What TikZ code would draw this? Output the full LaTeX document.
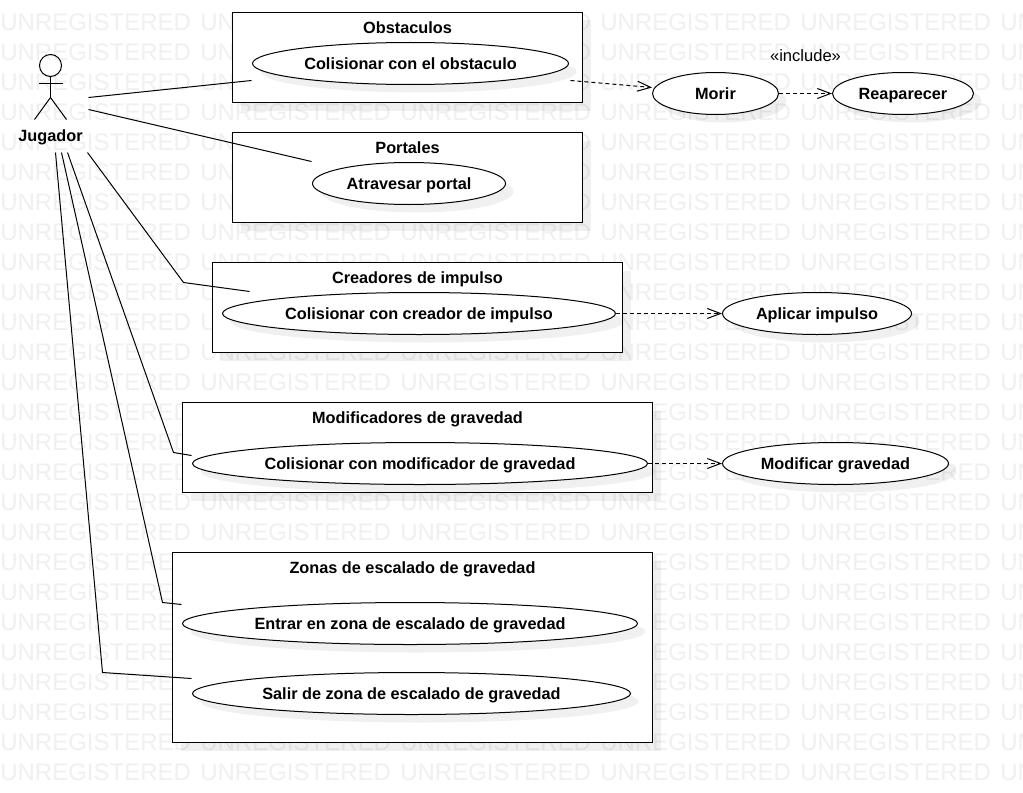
\documentclass[tikz,border=0pt]{standalone}
\usepackage{fontspec}
\setmainfont{Liberation Sans}
\usetikzlibrary{arrows.meta,shadows,shapes.geometric}
\tikzset{
  wm/.style={text=black!6,font=\fontsize{18pt}{20pt}\selectfont,anchor=west,inner sep=0pt},
  softshadow/.style={drop shadow={shadow xshift=6pt,shadow yshift=-6pt,fill=black,opacity=0.06}},
  groupbox/.style={draw=black,line width=0.75pt,fill=white,softshadow,rectangle,inner sep=0pt},
  labelfont/.style={font=\fontsize{12.2pt}{14pt}\selectfont\bfseries,text height=10pt,text depth=2.5pt},
  ucase/.style={draw=black,line width=0.75pt,fill=white,softshadow,ellipse,inner sep=0pt,minimum height=31.5pt,labelfont,text height=11.5pt},
  grouptitle/.style={labelfont,inner sep=0pt},
  assoc/.style={draw=black,line width=0.75pt},
  dep/.style={draw=black,line width=0.75pt,dash pattern=on 3pt off 2.25pt,-{Straight Barb[length=10pt,width=7.5pt,line width=0.75pt]}},
  stick/.style={draw=black,line width=0.75pt},
}
\begin{document}
\begin{tikzpicture}[x=0.75pt,y=-0.75pt]
\useasboundingbox (0,0) rectangle (1023,792);
\fill[white] (0,0) rectangle (1023,792);
% watermark
\foreach \r in {0,...,25}{
  \foreach \c in {0,...,5}{
    \node[wm] (wm-\r-\c) at ({\c*200},{22+\r*30}) {UNREGISTERED};
  }
}
\begin{scope}[shift={(0.5,0.5)}]
% group boxes
\node[groupbox,minimum width=262.5pt,minimum height=67.5pt] (obst) at (407,57) {};
\node[groupbox,minimum width=262.5pt,minimum height=67.5pt] (port) at (407,177) {};
\node[groupbox,minimum width=307.5pt,minimum height=67.5pt] (crea) at (417,307) {};
\node[groupbox,minimum width=352.5pt,minimum height=67.5pt] (modi) at (417,447) {};
\node[groupbox,minimum width=360pt,minimum height=142.5pt] (zona) at (412,647) {};
\node[grouptitle] (tobst) at (407,28) {Obstaculos};
\node[grouptitle] (tport) at (407,148) {Portales};
\node[grouptitle] (tcrea) at (417,278) {Creadores de impulso};
\node[grouptitle] (tmodi) at (417,418) {Modificadores de gravedad};
\node[grouptitle] (tzona) at (412,568) {Zonas de escalado de gravedad};
% use cases
\node[ucase,minimum width=237pt] (col) at (410,63) {Colisionar con el obstaculo};
\node[ucase,minimum width=144.75pt] (atr) at (408.5,183) {Atravesar portal};
\node[ucase,minimum width=294.75pt] (cimp) at (418.5,313) {Colisionar con creador de impulso};
\node[ucase,minimum width=341.25pt] (cgra) at (419.5,463) {Colisionar con modificador de gravedad};
\node[ucase,minimum width=341.25pt] (ent) at (409.5,623) {Entrar en zona de escalado de gravedad};
\node[ucase,minimum width=328.5pt] (sal) at (411,693) {Salir de zona de escalado de gravedad};
\node[ucase,minimum width=94.5pt] (mor) at (715,93) {Morir};
\node[ucase,minimum width=105.75pt] (rea) at (902.5,93) {Reaparecer};
\node[ucase,minimum width=141.75pt] (apl) at (816.5,313) {Aplicar impulso};
\node[ucase,minimum width=169.5pt] (mgr) at (835,463) {Modificar gravedad};
% actor
\node[draw=black,line width=0.75pt,circle,minimum size=16.5pt,inner sep=0pt] (head) at (50,65) {};
\coordinate (hip) at (50,97);
\coordinate (armL) at (38,83);
\coordinate (armR) at (62,83);
\coordinate (footL) at (34,119);
\coordinate (footR) at (66,119);
\draw[stick] (head.south) -- (hip);
\draw[stick] (armL) -- (armR);
\draw[stick] (footL) -- (hip) -- (footR);
\node[grouptitle] (jug) at (50,136) {Jugador};
\node[inner sep=0pt,font=\fontsize{12.4pt}{14pt}\selectfont,text height=10pt,text depth=2.5pt] (inc) at (805,56) {«include»};
% connector ends
\coordinate (a1) at (88,97);   \coordinate (e1) at (251,80);
\coordinate (a2) at (88,109);  \coordinate (e2) at (311,161);
\coordinate (a3) at (87,152);  \coordinate (b3) at (183,282); \coordinate (e3) at (249,291);
\coordinate (a4) at (67,152);  \coordinate (b4) at (173,452); \coordinate (e4) at (191,455);
\coordinate (a5) at (61,152);  \coordinate (b5) at (162,602); \coordinate (e5) at (181,604);
\coordinate (a6) at (55,152);  \coordinate (b6) at (102,672); \coordinate (e6) at (191,678);
\coordinate (d1) at (570,80);
\draw[assoc] (a1) -- (e1);
\draw[assoc] (a2) -- (e2);
\draw[assoc] (a3) -- (b3) -- (e3);
\draw[assoc] (a4) -- (b4) -- (e4);
\draw[assoc] (a5) -- (b5) -- (e5);
\draw[assoc] (a6) -- (b6) -- (e6);
\draw[dep] (d1) -- (mor.west |- 0,87);
\draw[dep] (mor.east) -- (rea.west);
\draw[dep] (cimp.east) -- (apl.west);
\draw[dep] (cgra.east) -- (mgr.west);
\end{scope}
\end{tikzpicture}
\end{document}
